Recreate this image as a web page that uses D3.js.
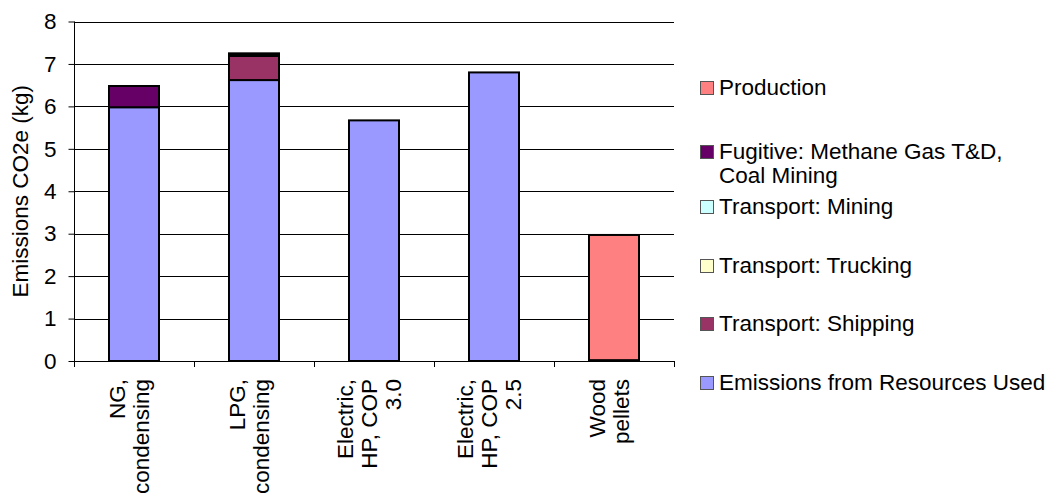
<!DOCTYPE html>
<html>
<head>
<meta charset="utf-8">
<script src="https://cdn.jsdelivr.net/npm/d3@7"></script>
<style>
  html, body { margin: 0; padding: 0; background: #fff; }
  svg { display: block; font-family: "Liberation Sans", Arial, sans-serif; }
</style>
</head>
<body>
<svg id="chart" width="1058" height="497"></svg>
<script>
// Heating options compared (line breaks follow the axis label wrapping)
const categories = [
  "NG,\ncondensing",
  "LPG,\ncondensing",
  "Electric,\nHP, COP\n3.0",
  "Electric,\nHP, COP\n2.5",
  "Wood\npellets"
];

// Stacked components, bottom to top, kg CO2e
const emissionsUsed = [5.98, 6.62, 5.67, 6.80, 0.02];
const shipping      = [0.00, 0.57, 0.00, 0.00, 0.00];
const trucking      = [0.00, 0.02, 0.00, 0.00, 0.00];
const mining        = [0.00, 0.00, 0.00, 0.00, 0.00];
const fugitive      = [0.50, 0.04, 0.00, 0.00, 0.00];
const production    = [0.00, 0.00, 0.00, 0.00, 2.95];

const seriesNames = [
  "Emissions from Resources Used",
  "Transport: Shipping",
  "Transport: Trucking",
  "Transport: Mining",
  "Fugitive: Methane Gas T&D,\nCoal Mining",
  "Production"
];
const seriesValues = [emissionsUsed, shipping, trucking, mining, fugitive, production];
const seriesColors = ["#9999FF", "#993366", "#FFFFCC", "#CCFFFF", "#660066", "#FF8080"];

const yTicks = [0, 1, 2, 3, 4, 5, 6, 7, 8];
const yTitle = "Emissions CO2e (kg)";

// ---- layout ----
const plot = { left: 74, right: 674, top: 21.5, bottom: 361 };
const fontSize = 22.5;

const svg = d3.select("#chart");

const x = d3.scaleBand()
  .domain(categories)
  .range([plot.left, plot.right])
  .paddingInner(0.5833)
  .paddingOuter(0.5833 / 2);

const y = d3.scaleLinear().domain([0, 8]).range([plot.bottom, plot.top]);

// Gridlines
svg.append("g")
  .selectAll("line")
  .data(yTicks.filter(t => t > 0))
  .join("line")
  .attr("x1", plot.left).attr("x2", plot.right)
  .attr("y1", d => Math.round(y(d)) + 0.5).attr("y2", d => Math.round(y(d)) + 0.5)
  .attr("stroke", "#000").attr("stroke-width", 1);

// Stack the series
const rows = categories.map((c, i) => {
  const r = { cat: c };
  seriesNames.forEach((s, k) => { r[s] = seriesValues[k][i]; });
  return r;
});
const stacked = d3.stack().keys(seriesNames)(rows);

svg.append("g")
  .selectAll("g")
  .data(stacked)
  .join("g")
  .attr("fill", (d, k) => seriesColors[k])
  .selectAll("rect")
  .data(d => d.filter(p => p[1] - p[0] > 0))
  .join("rect")
  .attr("x", d => x(d.data.cat))
  .attr("width", x.bandwidth())
  .attr("y", d => y(d[1]))
  .attr("height", d => y(d[0]) - y(d[1]))
  .attr("stroke", "#000")
  .attr("stroke-width", 2);

// Y axis
const yAxis = d3.axisLeft(y).tickValues(yTicks).tickSize(6).tickPadding(12).tickFormat(d3.format("d"));
const gy = svg.append("g").attr("transform", `translate(${plot.left + 0.5},0)`).call(yAxis);
gy.select(".domain").attr("stroke", "#000").attr("d", `M0,${plot.top}V${plot.bottom + 6}`);
gy.selectAll(".tick line").attr("stroke", "#000");
gy.selectAll(".tick text")
  .attr("font-size", fontSize)
  .attr("font-family", "'Liberation Sans', Arial, sans-serif")
  .attr("fill", "#000");

// X axis line and category separators
const bounds = categories.map(c => x(c) - (x.step() - x.bandwidth()) / 2).concat([plot.right]);
const gx = svg.append("g");
gx.append("line")
  .attr("x1", plot.left).attr("x2", plot.right)
  .attr("y1", plot.bottom + 0.5).attr("y2", plot.bottom + 0.5)
  .attr("stroke", "#000");
gx.selectAll("line.sep")
  .data(bounds)
  .join("line")
  .attr("class", "sep")
  .attr("x1", d => Math.round(d) + 0.5).attr("x2", d => Math.round(d) + 0.5)
  .attr("y1", plot.bottom).attr("y2", plot.bottom + 6)
  .attr("stroke", "#000");

// Rotated, wrapped category labels
const lineGap = 24;
const labelTop = 379;
categories.forEach(c => {
  const lines = c.split("\n");
  const cx = x(c) + x.bandwidth() / 2;
  lines.forEach((ln, i) => {
    const bx = cx + (i - (lines.length - 1) / 2) * lineGap + 3;
    svg.append("text")
      .attr("transform", `translate(${bx},${labelTop}) rotate(-90)`)
      .attr("text-anchor", "end")
      .attr("font-size", fontSize)
      .attr("fill", "#000")
      .text(ln);
  });
});

// Y axis title
svg.append("text")
  .attr("transform", `translate(28,${(plot.top + plot.bottom) / 2}) rotate(-90)`)
  .attr("text-anchor", "middle")
  .attr("font-size", fontSize)
  .attr("fill", "#000")
  .text(yTitle);

// Legend, listed top to bottom in reverse stacking order
const legendOrder = d3.range(seriesNames.length).reverse();
const legendBaselines = [95, 159, 214, 273, 331, 390];
const legendLineGap = 24;
const legend = svg.append("g");
legendOrder.forEach((k, j) => {
  const base = legendBaselines[j];
  legend.append("rect")
    .attr("x", 700.5).attr("y", base - 14 + 0.5)
    .attr("width", 13).attr("height", 13)
    .attr("fill", seriesColors[k])
    .attr("stroke", "#555").attr("stroke-width", 1);
  seriesNames[k].split("\n").forEach((ln, i) => {
    legend.append("text")
      .attr("x", 719).attr("y", base + i * legendLineGap)
      .attr("font-size", fontSize)
      .attr("fill", "#000")
      .text(ln);
  });
});
</script>
</body>
</html>
